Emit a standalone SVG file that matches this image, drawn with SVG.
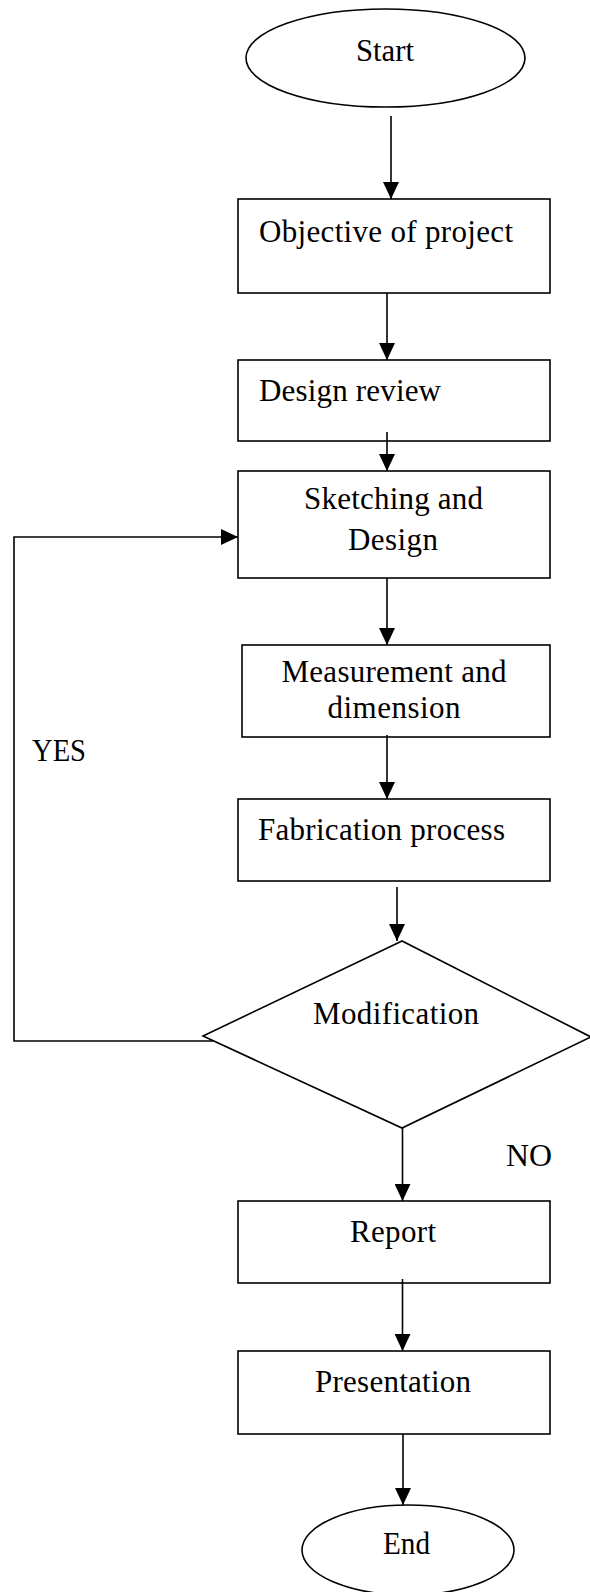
<svg xmlns="http://www.w3.org/2000/svg" width="590" height="1592" viewBox="0 0 590 1592">
<style>
.s{fill:#fff;stroke:#000;stroke-width:1.6}
.c{fill:none;stroke:#000;stroke-width:1.6}
text{font-family:"Liberation Serif","Times New Roman",serif;font-size:31px;fill:#000}
.m{text-anchor:middle}
</style>
<defs>
<marker id="arr" markerWidth="17" markerHeight="16" refX="17" refY="8" orient="auto" markerUnits="userSpaceOnUse">
<path d="M0,0 L17,8 L0,16 Z" fill="#000"/>
</marker>
</defs>
<g id="start"><ellipse class="s" cx="385.5" cy="58" rx="139.5" ry="49"/><text x="385" y="61" class="m" textLength="58" lengthAdjust="spacingAndGlyphs">Start</text></g>
<g id="objective"><rect class="s" x="238" y="199" width="312" height="94"/><text x="259" y="242" textLength="254" lengthAdjust="spacing">Objective of project</text></g>
<g id="review"><rect class="s" x="238" y="360" width="312" height="81"/><text x="259" y="401" textLength="182" lengthAdjust="spacing">Design review</text></g>
<g id="sketch"><rect class="s" x="238" y="471" width="312" height="107"/><text x="393.5" y="509" class="m" textLength="179" lengthAdjust="spacing">Sketching and</text><text x="393" y="550" class="m" textLength="90" lengthAdjust="spacing">Design</text></g>
<g id="measure"><rect class="s" x="242" y="645" width="308" height="92"/><text x="394" y="682" class="m" textLength="225" lengthAdjust="spacing">Measurement and</text><text x="394" y="718" class="m" textLength="133" lengthAdjust="spacing">dimension</text></g>
<g id="fabrication"><rect class="s" x="238" y="799" width="312" height="82"/><text x="258" y="840" textLength="247" lengthAdjust="spacing">Fabrication process</text></g>
<g id="modification"><polygon class="s" points="402,941 203,1036 402,1128 591,1037"/><text x="396" y="1024" class="m" textLength="166" lengthAdjust="spacing">Modification</text></g>
<g id="report"><rect class="s" x="238" y="1201" width="312" height="82"/><text x="393" y="1242" class="m" textLength="86" lengthAdjust="spacing">Report</text></g>
<g id="presentation"><rect class="s" x="238" y="1351" width="312" height="83"/><text x="393" y="1392" class="m" textLength="156" lengthAdjust="spacing">Presentation</text></g>
<g id="end"><ellipse class="s" cx="408" cy="1550" rx="106" ry="45"/><text x="406.5" y="1554" class="m" textLength="47" lengthAdjust="spacingAndGlyphs">End</text></g>
<g id="connectors">
<line class="c" x1="391" y1="116" x2="391" y2="199" marker-end="url(#arr)"/>
<line class="c" x1="387" y1="293" x2="387" y2="360" marker-end="url(#arr)"/>
<line class="c" x1="387" y1="432" x2="387" y2="471" marker-end="url(#arr)"/>
<line class="c" x1="387" y1="578" x2="387" y2="645" marker-end="url(#arr)"/>
<line class="c" x1="387" y1="735" x2="387" y2="799" marker-end="url(#arr)"/>
<line class="c" x1="397" y1="887" x2="397" y2="941" marker-end="url(#arr)"/>
<line class="c" x1="402.5" y1="1128" x2="402.5" y2="1201" marker-end="url(#arr)"/>
<line class="c" x1="402.5" y1="1279" x2="402.5" y2="1351" marker-end="url(#arr)"/>
<line class="c" x1="403" y1="1434" x2="403" y2="1505" marker-end="url(#arr)"/>
<polyline class="c" points="213,1041 14,1041 14,537 238,537" marker-end="url(#arr)"/>
</g>
<g id="labels">
<text x="32" y="761" textLength="54" lengthAdjust="spacingAndGlyphs">YES</text>
<text x="506" y="1166" textLength="46" lengthAdjust="spacingAndGlyphs">NO</text>
</g>
</svg>
